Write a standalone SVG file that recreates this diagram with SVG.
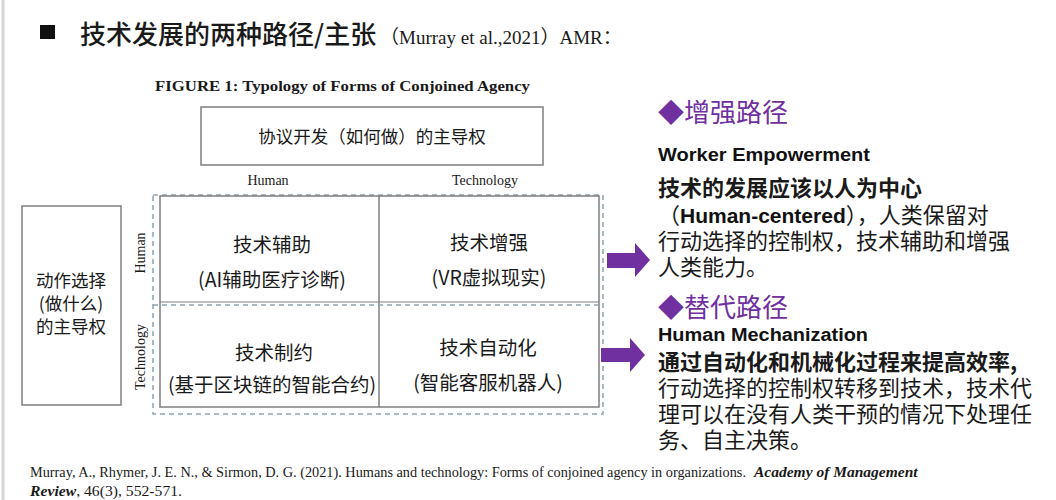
<svg xmlns="http://www.w3.org/2000/svg" width="1056" height="500" viewBox="0 0 1056 500">
<defs>
<style>
.cjk{font-family:"Noto Sans CJK SC","Liberation Sans",sans-serif;fill:#1a1a1a}
.ser{font-family:"Liberation Serif","Noto Sans CJK SC",serif;fill:#1a1a1a}
.sans{font-family:"Liberation Sans","Noto Sans CJK SC",sans-serif;fill:#111}
.box{fill:none;stroke:#7f7f7f;stroke-width:1.5}
.dash{fill:none;stroke:#8ea4b3;stroke-width:1.5;stroke-dasharray:5,4}
.purple{fill:#7030a0}
.q{font-size:19.5px;text-anchor:middle}
.r{font-size:22px}
</style>
</defs>
<rect x="0" y="0" width="1056" height="500" fill="#ffffff"/>
<line x1="3" y1="0" x2="3" y2="500" stroke="#d4d4d4" stroke-width="3"/>

<g id="title">
<rect x="40" y="25" width="15" height="14" fill="#111"/>
<text x="80" y="44" class="cjk" font-size="26" font-weight="500">技术发展的两种路径/主张</text>
<text x="380" y="44" class="ser" font-size="19"><tspan font-family="Noto Sans CJK SC,sans-serif">（</tspan>Murray et al.,2021<tspan font-family="Noto Sans CJK SC,sans-serif">）</tspan>AMR<tspan font-family="Noto Sans CJK SC,sans-serif">：</tspan></text>
</g>

<g id="figure-title">
<text x="155" y="91" class="ser" font-size="15" font-weight="bold" textLength="375" lengthAdjust="spacingAndGlyphs">FIGURE 1: Typology of Forms of Conjoined Agency</text>
</g>

<g id="node-how">
<rect x="201" y="107" width="342" height="58" class="box"/>
<text x="372" y="143" class="cjk" font-size="17.5" text-anchor="middle">协议开发（如何做）的主导权</text>
</g>

<g id="axis-labels">
<text x="268" y="185" class="ser" font-size="14" text-anchor="middle">Human</text>
<text x="485" y="185" class="ser" font-size="14" text-anchor="middle">Technology</text>
<text transform="translate(145,253) rotate(-90)" class="ser" font-size="14" text-anchor="middle">Human</text>
<text transform="translate(145,357) rotate(-90)" class="ser" font-size="14" text-anchor="middle">Technology</text>
</g>

<g id="node-what">
<rect x="22" y="206" width="99" height="199" class="box"/>
<text x="71" y="287" class="cjk" font-size="17.5" text-anchor="middle">动作选择</text>
<text x="71" y="310" class="cjk" font-size="17.5" text-anchor="middle">(做什么)</text>
<text x="71" y="333" class="cjk" font-size="17.5" text-anchor="middle">的主导权</text>
</g>

<g id="grid">
<rect x="153" y="195" width="450" height="219" class="dash"/>
<rect x="160" y="196" width="439" height="211" class="box"/>
<line x1="379" y1="196" x2="379" y2="407" stroke="#7f7f7f" stroke-width="1.5"/>
<line x1="160" y1="302" x2="599" y2="302" stroke="#7f7f7f" stroke-width="1.2"/>
<line x1="153" y1="305" x2="603" y2="305" class="dash"/>
</g>

<g id="node-assist">
<text x="272" y="252" class="cjk q">技术辅助</text>
<text x="272" y="287" class="cjk q">(AI辅助医疗诊断)</text>
</g>
<g id="node-augment">
<text x="489" y="250" class="cjk q">技术增强</text>
<text x="489" y="285" class="cjk q">(VR虚拟现实)</text>
</g>
<g id="node-constrain">
<text x="274" y="360" class="cjk q">技术制约</text>
<text x="272" y="392" class="cjk q">(基于区块链的智能合约)</text>
</g>
<g id="node-automate">
<text x="488" y="355" class="cjk q">技术自动化</text>
<text x="488" y="390" class="cjk q">(智能客服机器人)</text>
</g>

<g id="connectors">
<polygon class="purple" points="607,253 635,253 635,243 650,260 635,277 635,268 607,268"/>
<polygon class="purple" points="601,348 630,348 630,338 645,355 630,372 630,362 601,362"/>
</g>

<g id="node-empower">
<text x="658" y="122" class="cjk" font-size="26" style="fill:#7030a0">◆增强路径</text>
<text x="658" y="161" class="sans" font-size="18" font-weight="bold" textLength="212" lengthAdjust="spacingAndGlyphs">Worker Empowerment</text>
<text x="658" y="196" class="cjk r" font-weight="bold">技术的发展应该以人为中心</text>
<text x="658" y="223" class="cjk r"><tspan>（</tspan><tspan class="sans" font-weight="bold" font-size="21">Human-centered</tspan><tspan>），人类保留对</tspan></text>
<text x="658" y="249" class="cjk r">行动选择的控制权，技术辅助和增强</text>
<text x="658" y="275" class="cjk r">人类能力。</text>
</g>

<g id="node-mechanize">
<text x="658" y="317" class="cjk" font-size="26" style="fill:#7030a0">◆替代路径</text>
<text x="658" y="341" class="sans" font-size="18" font-weight="bold" textLength="210" lengthAdjust="spacingAndGlyphs">Human Mechanization</text>
<text x="658" y="370" class="cjk r" font-weight="bold">通过自动化和机械化过程来提高效率,</text>
<text x="658" y="396" class="cjk r">行动选择的控制权转移到技术，技术代</text>
<text x="658" y="422" class="cjk r">理可以在没有人类干预的情况下处理任</text>
<text x="658" y="448" class="cjk r">务、自主决策。</text>
</g>

<g id="reference">
<text x="30" y="477" class="ser" font-size="14" textLength="716" lengthAdjust="spacingAndGlyphs">Murray, A., Rhymer, J. E. N., &amp; Sirmon, D. G. (2021). Humans and technology: Forms of conjoined agency in organizations.</text>
<text x="754" y="477" class="ser" font-size="15.5" font-weight="bold" font-style="italic">Academy of Management</text>
<text x="30" y="496" class="ser" font-size="15" textLength="152" lengthAdjust="spacingAndGlyphs"><tspan font-weight="bold" font-style="italic">Review</tspan>, 46(3), 552-571.</text>
</g>
</svg>
